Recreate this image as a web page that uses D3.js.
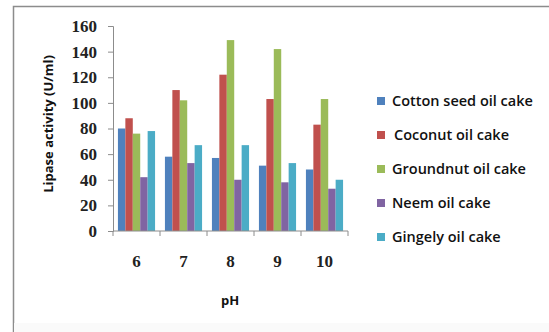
<!DOCTYPE html>
<html>
<head>
<meta charset="utf-8">
<script src="https://cdn.jsdelivr.net/npm/d3@7"></script>
<style>
  body { margin: 0; background: #fff; }
  svg { display: block; }
</style>
</head>
<body>
<script>
// chart data
const phLevels = ['6', '7', '8', '9', '10']
const seriesNames = ['Cotton seed oil cake', 'Coconut oil cake', 'Groundnut oil cake', 'Neem oil cake', 'Gingely oil cake']
const cottonSeed = [80, 58, 57, 51, 48]
const coconut = [88, 110, 122, 103, 83]
const groundnut = [76, 102, 149, 142, 103]
const neem = [42, 53, 40, 38, 33]
const gingely = [78, 67, 67, 53, 40]
const yTicks = [0, 20, 40, 60, 80, 100, 120, 140, 160]

const colors = ['#4F81BD', '#C0504D', '#9BBB59', '#8064A2', '#4BACC6']
const seriesValues = [cottonSeed, coconut, groundnut, neem, gingely]

const WIDTH = 549
const HEIGHT = 332
const plot = { left: 113, right: 348, top: 26, bottom: 231 }

const svg = d3.select('body')
  .append('svg')
  .attr('width', WIDTH)
  .attr('height', HEIGHT)

// outer chart frame (only top and left edges show in the picture)
svg.append('path')
  .attr('d', `M13.5,${HEIGHT} L13.5,6.5 L${WIDTH},6.5`)
  .attr('fill', 'none')
  .attr('stroke', '#8c8c8c')
  .attr('stroke-width', 1.5)

svg.append('rect')
  .attr('x', 14).attr('y', 323)
  .attr('width', WIDTH - 14).attr('height', HEIGHT - 323)
  .attr('fill', '#fafafa')

const x0 = d3.scaleBand()
  .domain(phLevels)
  .range([plot.left, plot.right])
  .paddingInner(0.21)
  .paddingOuter(0.105)

const x1 = d3.scaleBand()
  .domain(d3.range(seriesNames.length))
  .range([0, x0.bandwidth()])

const y = d3.scaleLinear()
  .domain([0, 160])
  .range([plot.bottom, plot.top])

const rows = phLevels.map((ph, i) => ({ ph, values: seriesValues.map(s => s[i]) }))

svg.append('g')
  .selectAll('g')
  .data(rows)
  .join('g')
  .attr('transform', d => `translate(${x0(d.ph)},0)`)
  .selectAll('rect')
  .data(d => d.values.map((v, k) => ({ k, v })))
  .join('rect')
  .attr('x', d => x1(d.k))
  .attr('y', d => y(d.v))
  .attr('width', x1.bandwidth())
  .attr('height', d => y(0) - y(d.v))
  .attr('fill', d => colors[d.k])

// y axis
const yAxis = svg.append('g')
  .attr('transform', `translate(${plot.left},0)`)
  .call(d3.axisLeft(y).tickValues(yTicks).tickSize(5).tickPadding(11))
yAxis.select('.domain').attr('stroke', '#8c8c8c')
yAxis.selectAll('.tick line').attr('stroke', '#8c8c8c')
yAxis.selectAll('text')
  .attr('font-family', '"Liberation Serif", serif')
  .attr('font-weight', 'bold')
  .attr('font-size', 17)
  .attr('fill', '#222')

// x axis with ticks between the groups
const xAxis = svg.append('g')
  .attr('transform', `translate(0,${plot.bottom})`)
xAxis.append('line')
  .attr('x1', plot.left).attr('x2', plot.right)
  .attr('stroke', '#8c8c8c')
const step = x0.step()
xAxis.selectAll('.sep')
  .data(d3.range(phLevels.length + 1))
  .join('line')
  .attr('class', 'sep')
  .attr('x1', i => plot.left + i * step)
  .attr('x2', i => plot.left + i * step)
  .attr('y1', 0).attr('y2', 5)
  .attr('stroke', '#8c8c8c')
xAxis.selectAll('.lbl')
  .data(phLevels)
  .join('text')
  .attr('class', 'lbl')
  .attr('x', d => x0(d) + x0.bandwidth() / 2)
  .attr('y', 36)
  .attr('text-anchor', 'middle')
  .attr('font-family', '"Liberation Serif", serif')
  .attr('font-weight', 'bold')
  .attr('font-size', 17)
  .attr('fill', '#222')
  .text(d => d)

// axis titles
svg.append('text')
  .attr('x', 230)
  .attr('y', 305)
  .attr('text-anchor', 'middle')
  .attr('font-family', '"Open Sans", sans-serif')
  .attr('font-weight', 'bold')
  .attr('font-size', 13)
  .attr('fill', '#111')
  .text('pH')

svg.append('text')
  .attr('transform', 'translate(53,124) rotate(-90)')
  .attr('text-anchor', 'middle')
  .attr('font-family', '"Open Sans", sans-serif')
  .attr('font-weight', 'bold')
  .attr('font-size', 13)
  .attr('fill', '#111')
  .text('Lipase activity (U/ml)')

// legend
const legend = svg.append('g')
  .selectAll('g')
  .data(seriesNames)
  .join('g')
  .attr('transform', (d, i) => `translate(377,${101 + i * 34})`)
legend.append('rect')
  .attr('x', 0).attr('y', -4)
  .attr('width', 8).attr('height', 8)
  .attr('fill', (d, i) => colors[i])
legend.append('text')
  .attr('x', (d, i) => i === 1 ? 17 : 15)
  .attr('y', 5)
  .attr('font-family', '"Open Sans", sans-serif')
  .attr('font-size', 14.5)
  .attr('font-weight', 600)
  .attr('fill', '#111')
  .text(d => d)
</script>
</body>
</html>
